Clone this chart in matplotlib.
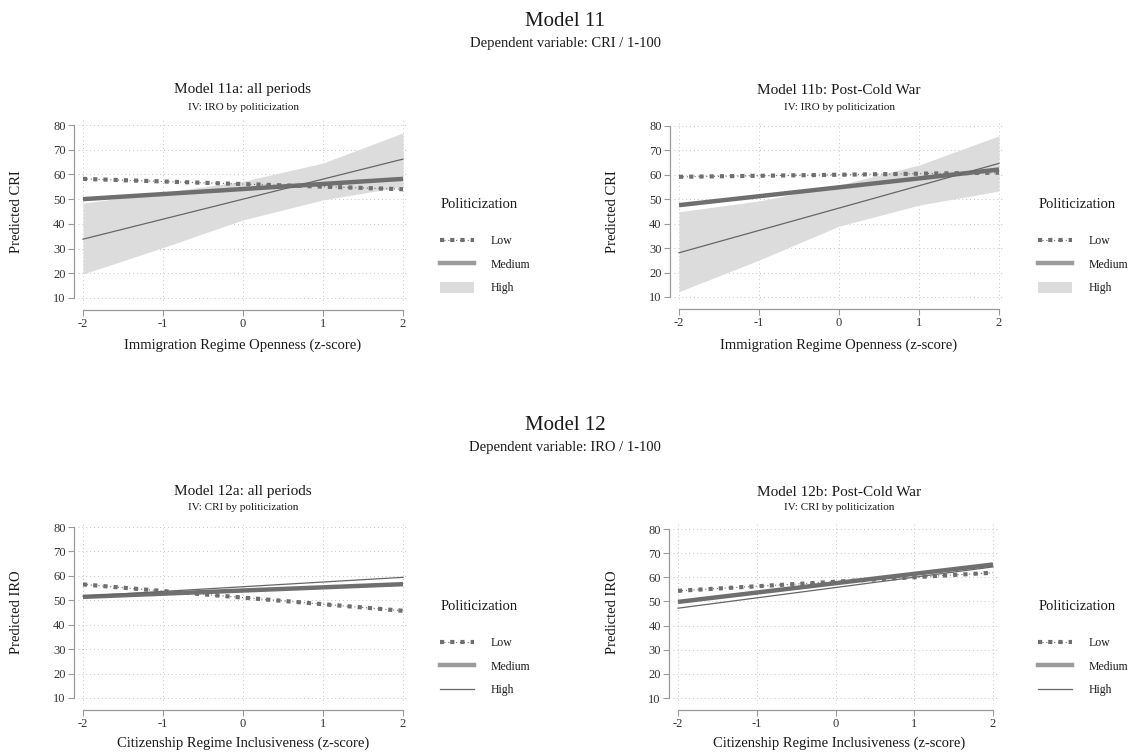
import numpy as np
import matplotlib.pyplot as plt
from matplotlib.lines import Line2D
from matplotlib.patches import Patch
from matplotlib.legend_handler import HandlerTuple

plt.rcParams['font.family'] = ['Liberation Serif', 'DejaVu Serif']

# predicted values at z = -2 and z = 2
z = [-2, 2]
# confidence band for the high group, read at z = -2..2
zb = [-2, -1, 0, 1, 2]

m11a_low = [58.2, 54.0]
m11a_med = [50.0, 58.2]
m11a_high = [33.8, 66.2]
m11a_high_lo = [19.7, 30.4, 41.6, 49.7, 55.1]
m11a_high_hi = [48.4, 52.7, 57.2, 64.6, 76.8]

m11b_low = [59.2, 60.9]
m11b_med = [47.6, 62.2]
m11b_high = [28.1, 64.7]
m11b_high_lo = [12.2, 25.1, 39.0, 47.6, 53.4]
m11b_high_hi = [44.9, 49.3, 55.8, 64.0, 76.0]

m12a_low = [56.5, 45.7]
m12a_med = [51.4, 56.6]
m12a_high = [51.7, 59.4]

m12b_low = [54.4, 61.9]
m12b_med = [49.8, 65.3]
m12b_high = [47.2, 64.3]

yticks = [10, 20, 30, 40, 50, 60, 70, 80]
xticks = [-2, -1, 0, 1, 2]
xtick_labels = ['-2', '-1', '0', '1', '2']

W, H = 1130, 753
fig = plt.figure(figsize=(W / 100, H / 100), dpi=100)

XL = (-2.06, 2.06)
YL = (7.5, 82.5)


def place(x_lo, x_hi, y80, y10):
    # axes rectangle from pixel spots of x=-2, x=2, y=80, y=10
    ppx = (x_hi - x_lo) / 4
    ppy = (y10 - y80) / 70
    left = x_lo + (XL[0] + 2) * ppx
    right = x_hi + (XL[1] - 2) * ppx
    top = y80 - (YL[1] - 80) * ppy
    bottom = y10 + (10 - YL[0]) * ppy
    return fig.add_axes([left / W, 1 - bottom / H, (right - left) / W, (bottom - top) / H])


def ftext(px, py, s, **kw):
    fig.text(px / W, 1 - py / H, s, ha='center', va='center', color='#1a1a1a', **kw)


c_line = '#6f6f6f'
c_band = '#dcdcdc'


def low_line(ax, y):
    ax.plot(z, y, color=c_line, lw=3.0, ls=(0, (1, 1.45)), dash_capstyle='butt', zorder=4)
    ax.plot(z, y, color=c_line, lw=0.8, ls=(0, (1, 2.5)), zorder=4)


def style(ax, ylab, xlab, cx, cy, ylab_x, xlab_y):
    ax.set_xlim(*XL)
    ax.set_ylim(*YL)
    ax.set_xticks(xticks)
    ax.set_xticklabels(xtick_labels)
    ax.set_yticks(yticks)
    ax.grid(True, ls=(0, (1, 3)), color='#c4c4c4', lw=0.7)
    ax.set_axisbelow(True)
    for s in ['top', 'right']:
        ax.spines[s].set_visible(False)
    for s in ['left', 'bottom']:
        ax.spines[s].set_color('#9a9a9a')
        ax.spines[s].set_linewidth(0.9)
    ax.spines['left'].set_bounds(10, 80)
    ax.spines['bottom'].set_bounds(-2, 2)
    ax.spines['left'].set_position(('outward', 3))
    ax.spines['bottom'].set_position(('outward', 4))
    ax.tick_params(length=4, width=0.8, color='#9a9a9a', labelsize=9,
                   labelcolor='#333333', pad=2)
    ftext(ylab_x, cy, ylab, rotation=90, fontsize=10.5)
    ftext(cx, xlab_y, xlab, fontsize=10.5)


def legend(ax, px, py, handles):
    # title placed on its own, rows below it
    ftext(px + 45, py, 'Politicization', fontsize=10.5)
    leg = ax.legend(handles, ['Low', 'Medium', 'High'],
                    loc='upper left', bbox_to_anchor=(px / W, 1 - (py + 24) / H),
                    bbox_transform=fig.transFigure, frameon=False, fontsize=8.5,
                    handlelength=2.9, handletextpad=1.4,
                    labelspacing=0.95, handleheight=1.0, borderpad=0,
                    handler_map={tuple: HandlerTuple(ndivide=1, pad=0)})
    for t in leg.get_texts():
        t.set_color('#1a1a1a')


def low_handle():
    a = Line2D([], [], color=c_line, lw=3.0, ls=(0, (1, 1.45)), dash_capstyle='butt')
    b = Line2D([], [], color=c_line, lw=0.8, ls=(0, (1, 2.5)))
    return (a, b)


med_handle = Line2D([], [], color='#9c9c9c', lw=3.2)

# Model 11 headings
ftext(565, 22, 'Model 11', fontsize=15)
ftext(565, 44, 'Dependent variable: CRI / 1-100', fontsize=10.5)
ftext(565, 425, 'Model 12', fontsize=15)
ftext(565, 447, 'Dependent variable: IRO / 1-100', fontsize=10.5)

# Model 11a
ax = place(83, 403, 125, 298)
ax.fill_between(zb, m11a_high_lo, m11a_high_hi, color=c_band, lw=0, zorder=2)
low_line(ax, m11a_low)
ax.plot(z, m11a_med, color=c_line, lw=3.2, solid_capstyle='butt', zorder=3)
ax.plot(z, m11a_high, color='#666666', lw=0.9, zorder=3)
style(ax, 'Predicted CRI', 'Immigration Regime Openness (z-score)', 243, 212, 17, 345)
ftext(243, 90, 'Model 11a: all periods', fontsize=11)
ftext(243, 107, 'IV: IRO by politicization', fontsize=8)
legend(ax, 434, 205, [low_handle(), med_handle, Patch(facecolor=c_band, lw=0)])

# Model 11b
ax = place(679, 999, 126, 297)
ax.fill_between(zb, m11b_high_lo, m11b_high_hi, color=c_band, lw=0, zorder=2)
low_line(ax, m11b_low)
ax.plot(z, m11b_med, color=c_line, lw=3.2, solid_capstyle='butt', zorder=3)
ax.plot(z, m11b_high, color='#666666', lw=0.9, zorder=3)
style(ax, 'Predicted CRI', 'Immigration Regime Openness (z-score)', 839, 212, 612, 345)
ftext(839, 90, 'Model 11b: Post-Cold War', fontsize=11)
ftext(839, 107, 'IV: IRO by politicization', fontsize=8)
legend(ax, 1032, 205, [low_handle(), med_handle, Patch(facecolor=c_band, lw=0)])

# Model 12a
ax = place(83, 403, 527, 698)
low_line(ax, m12a_low)
ax.plot(z, m12a_med, color=c_line, lw=3.2, solid_capstyle='butt', zorder=3)
ax.plot(z, m12a_high, color='#666666', lw=0.9, zorder=3)
style(ax, 'Predicted IRO', 'Citizenship Regime Inclusiveness (z-score)', 243, 612, 17, 743)
ftext(243, 492, 'Model 12a: all periods', fontsize=11)
ftext(243, 508, 'IV: CRI by politicization', fontsize=8)
legend(ax, 434, 607, [low_handle(), med_handle, Line2D([], [], color='#666666', lw=0.9)])

# Model 12b
ax = place(678, 993, 529, 698)
low_line(ax, m12b_low)
ax.plot(z, m12b_med, color=c_line, lw=3.2, solid_capstyle='butt', zorder=3)
ax.plot(z, m12b_high, color='#666666', lw=0.9, zorder=3)
style(ax, 'Predicted IRO', 'Citizenship Regime Inclusiveness (z-score)', 839, 612, 612, 743)
ftext(839, 492, 'Model 12b: Post-Cold War', fontsize=11)
ftext(839, 508, 'IV: CRI by politicization', fontsize=8)
legend(ax, 1032, 607, [low_handle(), med_handle, Line2D([], [], color='#666666', lw=0.9)])

fig.savefig('out.png', dpi=100)
